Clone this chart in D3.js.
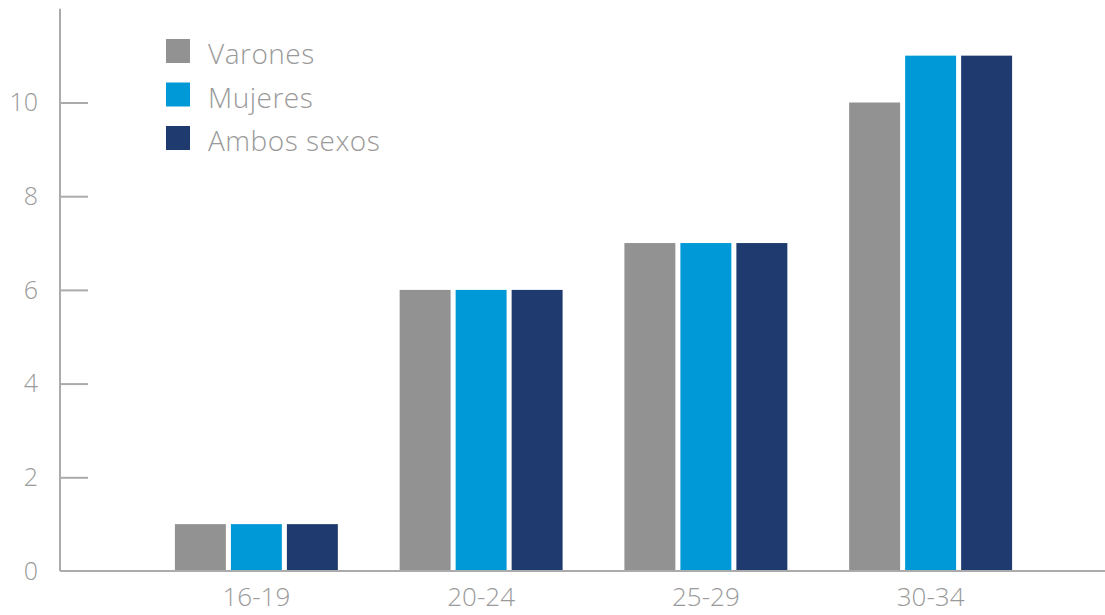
<!DOCTYPE html>
<html>
<head>
<meta charset="utf-8">
<script src="https://cdn.jsdelivr.net/npm/d3@7"></script>
<style>
  html, body { margin: 0; padding: 0; background: #fff; }
  svg text { font-family: "Open Sans", "Lato", sans-serif; font-weight: 300; fill: #9a9a9a; }
</style>
</head>
<body>
<svg id="chart" width="1105" height="615"></svg>
<script>
// Age groups and values per series
const categories = ["16-19", "20-24", "25-29", "30-34"];
const seriesNames = ["Varones", "Mujeres", "Ambos sexos"];
const varones = [1, 6, 7, 10];
const mujeres = [1, 6, 7, 11];
const ambosSexos = [1, 6, 7, 11];
const yTicks = [0, 2, 4, 6, 8, 10];
const colors = ["#929292", "#0099d8", "#1f3a6e"];

const seriesValues = [varones, mujeres, ambosSexos];
const rows = categories.map((c, i) => ({
  category: c,
  values: seriesNames.map((s, j) => ({ series: s, value: seriesValues[j][i] }))
}));

const svg = d3.select("#chart");
const axisColor = "#ababab";

const x = d3.scaleBand()
  .domain(categories)
  .range([144, 1043])
  .paddingInner(0.275)
  .paddingOuter(0.1375);

const xInner = d3.scaleBand()
  .domain(seriesNames)
  .range([0, x.bandwidth()])
  .paddingInner(0.09);

const y = d3.scaleLinear().domain([0, 12]).range([571, 8.8]);
const color = d3.scaleOrdinal().domain(seriesNames).range(colors);

// Bars
const groups = svg.append("g").selectAll("g")
  .data(rows)
  .join("g")
  .attr("transform", d => `translate(${x(d.category)},0)`);

groups.selectAll("rect")
  .data(d => d.values)
  .join("rect")
  .attr("x", d => xInner(d.series))
  .attr("y", d => y(d.value))
  .attr("width", xInner.bandwidth())
  .attr("height", d => y(0) - y(d.value))
  .attr("fill", d => color(d.series));

// Y axis: vertical line with inward ticks
const axisX = 60;
const yAxis = svg.append("g").attr("transform", `translate(${axisX},0)`)
  .call(d3.axisRight(y).tickValues(yTicks.filter(v => v > 0)).tickSize(28).tickFormat(""));
yAxis.select(".domain").remove();
yAxis.selectAll(".tick line").attr("stroke", axisColor).attr("stroke-width", 2);

svg.append("line")
  .attr("x1", axisX).attr("x2", axisX)
  .attr("y1", y(12)).attr("y2", y(0))
  .attr("stroke", axisColor).attr("stroke-width", 2);

svg.append("g").selectAll("text")
  .data(yTicks)
  .join("text")
  .attr("x", 38)
  .attr("y", d => y(d))
  .attr("dy", "0.35em")
  .attr("text-anchor", "end")
  .attr("font-size", 25)
  .text(d => d);

// X axis baseline and labels
svg.append("line")
  .attr("x1", axisX).attr("x2", 1105)
  .attr("y1", y(0)).attr("y2", y(0))
  .attr("stroke", axisColor).attr("stroke-width", 2);

svg.append("g").selectAll("text")
  .data(categories)
  .join("text")
  .attr("x", d => x(d) + x.bandwidth() / 2)
  .attr("y", 606)
  .attr("text-anchor", "middle")
  .attr("font-size", 26)
  .text(d => d);

// Legend
const legend = svg.append("g").selectAll("g")
  .data(seriesNames)
  .join("g")
  .attr("transform", (d, i) => `translate(166,${39 + i * 43.5})`);

legend.append("rect")
  .attr("width", 24).attr("height", 24)
  .attr("fill", d => color(d));

legend.append("text")
  .attr("x", 42)
  .attr("y", 25)
  .attr("font-size", 28)
  .attr("letter-spacing", 0.5)
  .text(d => d);
</script>
</body>
</html>
